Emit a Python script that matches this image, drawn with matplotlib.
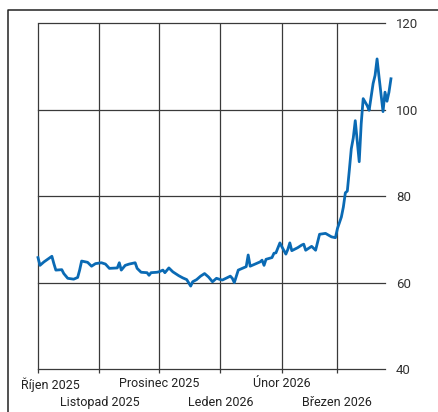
import matplotlib
matplotlib.use("Agg")
import matplotlib.pyplot as plt
import matplotlib.transforms as mtransforms
from matplotlib.lines import Line2D
import numpy as np

plt.rcParams["font.family"] = ["Roboto", "DejaVu Sans"]

# ── data ───────────────────────────────────────────────────────────────
dates = [
    "2025-10-01", "2025-10-02", "2025-10-04", "2025-10-08", "2025-10-09", "2025-10-10",
    "2025-10-13", "2025-10-14", "2025-10-16", "2025-10-19", "2025-10-21", "2025-10-22",
    "2025-10-23", "2025-10-26", "2025-10-28", "2025-10-30",
    "2025-11-02", "2025-11-04", "2025-11-06", "2025-11-10", "2025-11-11", "2025-11-12",
    "2025-11-14", "2025-11-16", "2025-11-19", "2025-11-20", "2025-11-22", "2025-11-25",
    "2025-11-26", "2025-11-27", "2025-11-30",
    "2025-12-01", "2025-12-03", "2025-12-04", "2025-12-06", "2025-12-08", "2025-12-11",
    "2025-12-13", "2025-12-15", "2025-12-17", "2025-12-18", "2025-12-20", "2025-12-22",
    "2025-12-24", "2025-12-26", "2025-12-28", "2025-12-30",
    "2026-01-01", "2026-01-02", "2026-01-06", "2026-01-07", "2026-01-08", "2026-01-10",
    "2026-01-12", "2026-01-14", "2026-01-15", "2026-01-16", "2026-01-19", "2026-01-21",
    "2026-01-22", "2026-01-23", "2026-01-24", "2026-01-27", "2026-01-28", "2026-01-29",
    "2026-01-31",
    "2026-02-01", "2026-02-03", "2026-02-04", "2026-02-05", "2026-02-06", "2026-02-09",
    "2026-02-11", "2026-02-12", "2026-02-13", "2026-02-15", "2026-02-16", "2026-02-18",
    "2026-02-20", "2026-02-23", "2026-02-26", "2026-02-28",
    "2026-03-01", "2026-03-03", "2026-03-04", "2026-03-05", "2026-03-06", "2026-03-07",
    "2026-03-08", "2026-03-09", "2026-03-10", "2026-03-12", "2026-03-13", "2026-03-14",
    "2026-03-16", "2026-03-17", "2026-03-19", "2026-03-20", "2026-03-21", "2026-03-22",
    "2026-03-24", "2026-03-25", "2026-03-26", "2026-03-27", "2026-03-28",
]
values = [
    65.8, 64.0, 64.8, 66.1, 64.4, 62.9,
    63.0, 62.1, 61.0, 60.8, 61.2, 62.9,
    65.0, 64.7, 63.8, 64.4,
    64.6, 64.3, 63.3, 63.4, 64.6, 62.9,
    64.0, 64.3, 64.6, 63.3, 62.4, 62.3,
    61.7, 62.3, 62.4,
    62.5, 62.9, 62.3, 63.4, 62.5, 61.6,
    61.1, 60.7, 59.2, 60.2, 60.7, 61.5,
    62.1, 61.3, 60.2, 61.0,
    60.7, 60.6, 61.5, 61.0, 60.0, 62.9,
    63.3, 63.7, 66.4, 63.8, 64.4, 64.8,
    65.2, 64.0, 65.4, 65.8, 66.8, 66.9,
    69.2,
    68.3, 66.6, 67.7, 69.2, 67.4, 68.1,
    68.7, 68.9, 67.5, 68.1, 68.4, 67.5,
    71.2, 71.4, 70.6, 70.4,
    72.5, 75.2, 77.5, 80.8, 81.2, 86.0,
    91.0, 93.5, 97.5, 88.0, 96.8, 102.6,
    101.0, 99.9, 106.1, 108.0, 111.8, 107.6,
    99.6, 104.1, 102.0, 104.1, 107.2,
]

month_starts = ["2025-10-01", "2025-11-01", "2025-12-01", "2026-01-01", "2026-02-01", "2026-03-01"]
month_labels = ["Říjen 2025", "Listopad 2025", "Prosinec 2025", "Leden 2026", "Únor 2026", "Březen 2026"]
y_ticks = [40, 60, 80, 100, 120]

# ── figure ─────────────────────────────────────────────────────────────
W, H = 438, 412
fig = plt.figure(figsize=(W / 100, H / 100), dpi=100)
ax = fig.add_axes([38 / W, 1 - 369 / H, (385 - 38) / W, (369 - 23.5) / H])

x = np.array(dates, dtype="datetime64[D]")
grid_col = "#3a3a3a"

ax.plot(x, values, color="#0a6ab4", lw=2.0, solid_joinstyle="round", clip_on=False, zorder=3)

x0 = np.datetime64("2025-10-01")
ax.set_xlim(x0, x0 + np.timedelta64(175, "D"))
ax.set_ylim(40, 120)

for s in ax.spines.values():
    s.set_visible(False)

ax.set_yticks(y_ticks)
ax.yaxis.tick_right()
ax.tick_params(axis="y", length=0, pad=8, labelsize=9.5, colors="#333333")
for v in y_ticks:
    ax.axhline(v, color=grid_col, lw=0.9, zorder=1, clip_on=False)

month_x = np.array(month_starts, dtype="datetime64[D]")
ax.set_xticks(month_x)
ax.set_xticklabels(month_labels)
ax.tick_params(axis="x", length=3, width=0.9, color=grid_col, labelsize=9,
               colors="#222222", pad=3)
for m in month_x:
    ax.axvline(m, color=grid_col, lw=0.9, zorder=1, clip_on=False)

# stagger labels on two rows (offsets in pixels)
for i, lbl in enumerate(ax.get_xticklabels()):
    dy_px = 0 if i % 2 == 0 else -19
    dx_px = 12 if i == 0 else 0
    lbl.set_transform(lbl.get_transform() +
                      mtransforms.ScaledTranslation(dx_px / 100, dy_px / 100, fig.dpi_scale_trans))

# outer frame (left + top)
fig.add_artist(Line2D([8 / W, 8 / W, 1.0], [0.0, 1 - 10 / H, 1 - 10 / H],
                      transform=fig.transFigure, color="#222222", lw=1.1))

fig.savefig("out.png", dpi=100)
